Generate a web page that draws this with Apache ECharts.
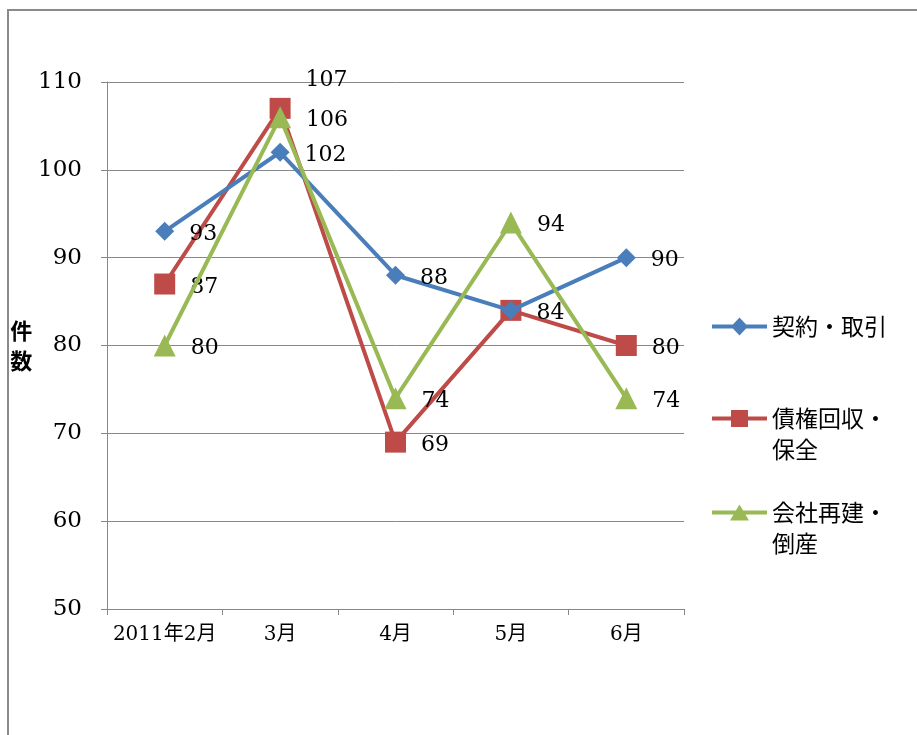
<!DOCTYPE html>
<html>
<head>
<meta charset="utf-8">
<script src="https://cdn.jsdelivr.net/npm/echarts@6/dist/echarts.min.js"></script>
<style>
  html, body { margin: 0; padding: 0; background: #fff; }
  #main { width: 917px; height: 735px; }
</style>
</head>
<body>
<div id="main"></div>
<script>
var months = ['2011年2月', '3月', '4月', '5月', '6月'];
var keiyaku = [93, 102, 88, 84, 90];
var saiken = [87, 107, 69, 84, 80];
var kaisha = [80, 106, 74, 94, 74];
var names = ['契約・取引', '債権回収・保全', '会社再建・倒産'];
var legendText = {
  '契約・取引': '契約・取引',
  '債権回収・保全': '\u3000\n債権回収・\n保全',
  '会社再建・倒産': '\u3000\n会社再建・\n倒産'
};
// legend icons: thick line plus marker, 55x18 box
var legendIcons = {
  '契約・取引': 'path://M0,7 H55 V11 H0 Z M27.5,0 L36,9 L27.5,18 L19,9 Z',
  '債権回収・保全': 'path://M0,7 H55 V11 H0 Z M19,0.5 H36 V17.5 H19 Z',
  '会社再建・倒産': 'path://M0,7 H55 V11 H0 Z M27.5,1 L37,17 L18,17 Z M0,0 H0.01 V18 H0 Z'
};

var serif = '"DejaVu Serif", "Noto Sans CJK JP", serif';
var gothic = '"Noto Sans CJK JP", sans-serif';

var labelStyle = {
  show: true,
  position: 'right',
  distance: 15,
  color: '#000',
  fontFamily: serif,
  fontSize: 22,
  offset: [0, 3]
};

function makeData(arr, overrides) {
  return arr.map(function (v, i) {
    if (overrides && overrides[i]) {
      return { value: v, label: overrides[i] };
    }
    return v;
  });
}

function legendFor(name, top) {
  return {
    show: true,
    data: [{ name: name, icon: legendIcons[name] }],
    orient: 'vertical',
    left: 712,
    top: top,
    padding: 0,
    itemWidth: 55,
    itemHeight: 18,
    itemGap: 0,
    selectedMode: false,
    formatter: function (n) { return legendText[n]; },
    textStyle: { fontFamily: gothic, fontSize: 23, color: '#000', lineHeight: 31 }
  };
}

var option = {
  animation: false,
  backgroundColor: '#fff',
  graphic: [
    {
      type: 'polyline',
      shape: { points: [[8, 735], [8, 10], [917, 10]] },
      style: { stroke: '#8a8a8a', lineWidth: 2, fill: null }
    }
  ],
  legend: [
    legendFor(names[0], 311),
    legendFor(names[1], 372),
    legendFor(names[2], 466)
  ],
  grid: { left: 107, top: 82, right: 233, bottom: 126 },
  xAxis: {
    type: 'category',
    data: months,
    boundaryGap: true,
    axisLine: { lineStyle: { color: '#888', width: 1 } },
    axisTick: { show: true, length: 6, lineStyle: { color: '#888' } },
    axisLabel: { color: '#000', fontFamily: serif, fontSize: 20, interval: 0, margin: 16 }
  },
  yAxis: {
    type: 'value',
    min: 50,
    max: 110,
    interval: 10,
    name: '件\n数',
    nameLocation: 'middle',
    nameRotate: 0,
    nameGap: 62,
    nameTextStyle: { color: '#000', fontFamily: gothic, fontSize: 22, fontWeight: 'bold', lineHeight: 30 },
    axisLine: { show: true, lineStyle: { color: '#888', width: 1 } },
    axisTick: { show: true, length: 6, lineStyle: { color: '#888' } },
    splitLine: { show: true, lineStyle: { color: '#888', width: 1 } },
    axisLabel: { color: '#000', fontFamily: serif, fontSize: 23, margin: 25 }
  },
  series: [
    {
      name: names[0],
      type: 'line',
      // 5月 label sits under the identical red one
      data: makeData(keiyaku, { 3: { show: false } }),
      color: '#4A7EBB',
      lineStyle: { width: 4, color: '#4A7EBB' },
      symbol: 'diamond',
      symbolSize: 19,
      itemStyle: { color: '#4A7EBB' },
      label: labelStyle,
      z: 3
    },
    {
      name: names[1],
      type: 'line',
      data: makeData(saiken, { 1: { offset: [0, -28] } }),
      color: '#BE4B48',
      lineStyle: { width: 4, color: '#BE4B48' },
      symbol: 'rect',
      symbolSize: 21,
      itemStyle: { color: '#BE4B48' },
      label: labelStyle,
      z: 2
    },
    {
      name: names[2],
      type: 'line',
      data: makeData(kaisha),
      color: '#98B954',
      lineStyle: { width: 4, color: '#98B954' },
      symbol: 'triangle',
      symbolSize: 22,
      itemStyle: { color: '#98B954' },
      label: labelStyle,
      z: 4
    }
  ]
};

var chart = echarts.init(document.getElementById('main'));
chart.setOption(option);
</script>
</body>
</html>
